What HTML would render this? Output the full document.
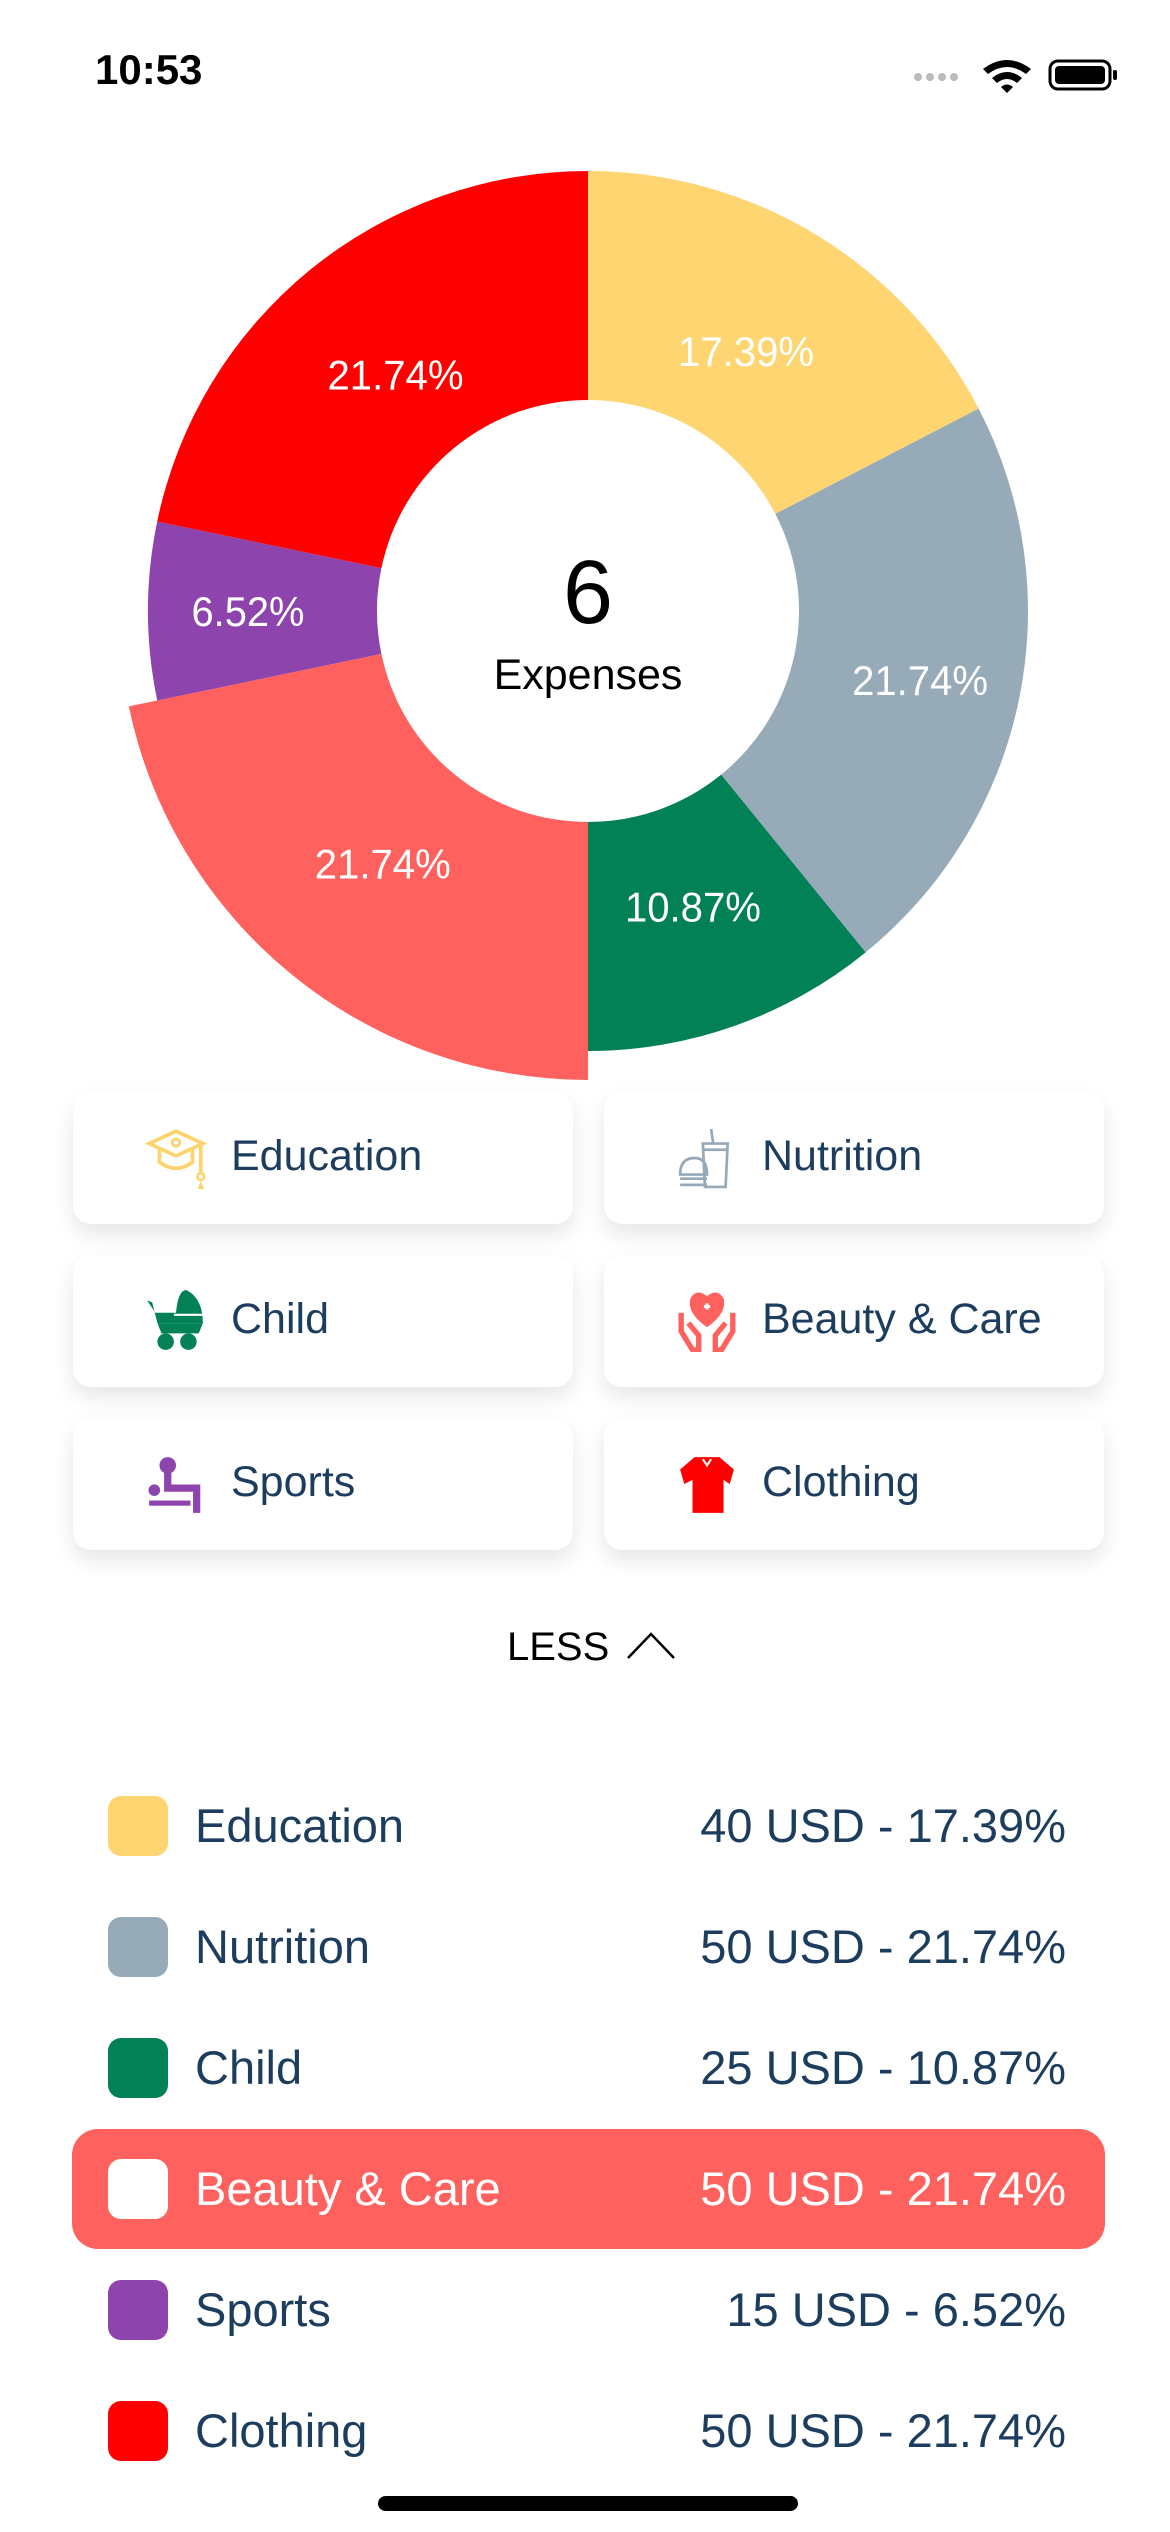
<!DOCTYPE html>
<html><head><meta charset="utf-8">
<style>
html,body{margin:0;padding:0;background:#fff;}
body{width:1170px;height:2532px;position:relative;overflow:hidden;font-family:"Liberation Sans",sans-serif;}
.abs{position:absolute;}
.card{position:absolute;width:500px;height:132px;background:#fff;border-radius:18px;box-shadow:0 10px 22px rgba(0,0,0,0.10);}
.card .lbl{position:absolute;left:158px;top:0;line-height:128px;font-size:43px;color:#1c3d5e;}
.card svg{position:absolute;left:72px;top:35px;}
.row{position:absolute;left:72px;width:1033px;height:120px;}
.row .sw{position:absolute;left:36px;top:30px;width:60px;height:60px;border-radius:13px;}
.row .nm{position:absolute;left:123px;top:0;line-height:120px;font-size:47px;color:#1c3d5e;}
.row .vl{position:absolute;right:39px;top:0;line-height:120px;font-size:47px;color:#1c3d5e;}
</style></head>
<body>
<div class="abs" style="left:95px;top:46px;font-size:42px;font-weight:bold;color:#000;">10:53</div>
<svg class="abs" style="left:910px;top:55px" width="210" height="40">
<circle cx="8" cy="22" r="4" fill="#bbb"/><circle cx="20" cy="22" r="4" fill="#bbb"/><circle cx="32" cy="22" r="4" fill="#bbb"/><circle cx="44" cy="22" r="4" fill="#bbb"/>
<path d="M73 14 Q97 -4 121 14 L116 19 Q97 5 78 19Z M82 23 Q97 11 112 23 L107 28 Q97 20 87 28Z M91 32 Q97 27 103 32 L97 38Z" fill="#000"/>
<rect x="140" y="6" width="60" height="28" rx="8" fill="none" stroke="#000" stroke-width="3"/>
<rect x="145" y="11" width="50" height="18" rx="4" fill="#000"/><rect x="203" y="15" width="4" height="10" rx="2" fill="#000"/>
</svg>

<svg id="pie" class="abs" style="left:0;top:0" width="1170" height="1092"></svg>

<div class="card" style="left:73px;top:1092px">
<svg width="62" height="62" viewBox="0 0 30 30"><path d="M2 8 L15 2 L28 8 L15 14Z M7 11 V17 Q15 23 23 17 V11" fill="none" stroke="#fdd36f" stroke-width="1.8"/><circle cx="15" cy="7.5" r="1.8" fill="none" stroke="#fdd36f" stroke-width="1.4"/><path d="M27 8 V22" stroke="#fdd36f" stroke-width="1.8"/><circle cx="27" cy="24" r="1.6" fill="none" stroke="#fdd36f" stroke-width="1.3"/><path d="M25.5 30 L27 26 L28.5 30Z" fill="#fdd36f"/></svg>
<div class="lbl">Education</div></div>
<div class="card" style="left:604px;top:1092px">
<svg width="62" height="62" viewBox="0 0 30 30"><path d="M13 8 H25 L24 29 H14Z M18 8 L17 1 M13 11 H25" fill="none" stroke="#97a9b8" stroke-width="1.3"/><path d="M2 23 Q2 15 9 15 Q15 15 15 23Z M2 25 H15 M2 28 H15" fill="none" stroke="#97a9b8" stroke-width="1.3"/></svg>
<div class="lbl">Nutrition</div></div>
<div class="card" style="left:73px;top:1255px">
<svg width="62" height="62" viewBox="0 0 30 30"><path d="M1 5 L3.5 6 L6 16 H28 Q28 4 20 0 Q16 0 15 11 H5" fill="#028157"/><path d="M6 16 L8 21 H26 L28 16" fill="#028157"/><path d="M14 12 H28" stroke="#fff" stroke-width="1"/><circle cx="10" cy="25" r="4" fill="#028157"/><circle cx="21" cy="25" r="4" fill="#028157"/></svg>
<div class="lbl">Child</div></div>
<div class="card" style="left:604px;top:1255px">
<svg width="62" height="62" viewBox="0 0 30 30"><path d="M15 18 Q5 11 7 4 Q10 -1 15 3 Q20 -1 23 4 Q25 11 15 18Z" fill="#ff625e"/><path d="M13.5 8 H16.5 M15 6.5 V9.5" stroke="#fff" stroke-width="1.4"/><path d="M2.5 11 V20 L8 29 H11 V22 L6 16 M27.5 11 V20 L22 29 H19 V22 L24 16" fill="none" stroke="#ff625e" stroke-width="2.6"/></svg>
<div class="lbl">Beauty &amp; Care</div></div>
<div class="card" style="left:73px;top:1418px">
<svg width="62" height="62" viewBox="0 0 30 30"><circle cx="11" cy="6" r="4" fill="#8e44ad"/><path d="M11 9 V17 H25 V29" fill="none" stroke="#8e44ad" stroke-width="3.5"/><circle cx="4.5" cy="18" r="2.8" fill="#8e44ad"/><rect x="2" y="23" width="20" height="2.5" fill="#8e44ad"/></svg>
<div class="lbl">Sports</div></div>
<div class="card" style="left:604px;top:1418px">
<svg width="62" height="62" viewBox="0 0 30 30"><path d="M9 2 H21 L28 8 L26 15 L23 13 V29 H8 V13 L4 15 L2 8Z" fill="#ff0000"/><path d="M13 3 L15 6 L17 3" stroke="#fff" fill="none"/></svg>
<div class="lbl">Clothing</div></div>

<div class="abs" style="left:507px;top:1625px;font-size:40px;color:#000;">LESS
<svg width="50" height="32" style="vertical-align:-2px;margin-left:6px"><path d="M2 28 L25 4 L48 28" fill="none" stroke="#000" stroke-width="2.5"/></svg></div>

<div id="list"></div>

<div class="abs" style="left:378px;top:2496px;width:420px;height:15px;border-radius:8px;background:#000"></div>

<script>
const categories = ["Education","Nutrition","Child","Beauty & Care","Sports","Clothing"];
const amounts = [40,50,25,50,15,50];
const colors = ["#fed571","#97aab8","#028157","#ff625e","#8e44ad","#ff0000"];
const selectedIndex = 3;

const total = amounts.reduce((a,b)=>a+b,0);
const cx=588, cy=611, rIn=211, rOut=440, rSel=469;
const NS="http://www.w3.org/2000/svg";
const svg=document.getElementById('pie');
function pt(r,frac){const a=frac*2*Math.PI;return [cx+r*Math.sin(a), cy-r*Math.cos(a)];}
let acc=0;
amounts.forEach((v,i)=>{
  const f0=acc/total, f1=(acc+v)/total; acc+=v;
  const ro = i===selectedIndex?rSel:rOut;
  const [x0,y0]=pt(ro,f0),[x1,y1]=pt(ro,f1),[x2,y2]=pt(rIn,f1),[x3,y3]=pt(rIn,f0);
  const large=(f1-f0)>0.5?1:0;
  const p=document.createElementNS(NS,'path');
  p.setAttribute('d',`M${x0} ${y0} A${ro} ${ro} 0 ${large} 1 ${x1} ${y1} L${x2} ${y2} A${rIn} ${rIn} 0 ${large} 0 ${x3} ${y3}Z`);
  p.setAttribute('fill',colors[i]);
  
  
  svg.appendChild(p);
  const mid=(f0+f1)/2;
  const lr=300+40*Math.abs(Math.sin(mid*2*Math.PI))*(mid>0.2&&mid<0.85?1:0.2);
  const [lx,ly]=pt(lr,mid);
  const t=document.createElementNS(NS,'text');
  t.setAttribute('x',lx);t.setAttribute('y',ly+15);
  t.setAttribute('text-anchor','middle');t.setAttribute('fill','#fff');
  t.setAttribute('font-size','42');t.setAttribute('font-family','Liberation Sans, sans-serif');
  t.setAttribute('textLength','136');t.setAttribute('lengthAdjust','spacingAndGlyphs');
  t.textContent=(v/total*100).toFixed(2)+'%';
  if(t.textContent.length<6)t.setAttribute('textLength','113');
  
  
  svg.appendChild(t);
});
const c1=document.createElementNS(NS,'text');
c1.setAttribute('x',cx);c1.setAttribute('y',623);c1.setAttribute('text-anchor','middle');
c1.setAttribute('font-size','90');c1.setAttribute('font-family','Liberation Sans, sans-serif');
c1.textContent=String(categories.length);


svg.appendChild(c1);
const c2=document.createElementNS(NS,'text');
c2.setAttribute('x',cx);c2.setAttribute('y',689);c2.setAttribute('text-anchor','middle');
c2.setAttribute('font-size','43');c2.setAttribute('font-family','Liberation Sans, sans-serif');
c2.textContent='Expenses';


svg.appendChild(c2);

const list=document.getElementById('list');
categories.forEach((c,i)=>{
  const row=document.createElement('div');
  row.className='row';
  row.style.top=(1766+i*121)+'px';
  
  
  const sel=i===selectedIndex;
  if(sel){row.style.background='#ff625e';row.style.borderRadius='26px';}
  const sw=document.createElement('div');sw.className='sw';sw.style.background=sel?'#fff':colors[i];
  
  
  const nm=document.createElement('div');nm.className='nm';nm.textContent=c;if(sel)nm.style.color='#fff';
  
  
  const vl=document.createElement('div');vl.className='vl';vl.textContent=amounts[i]+' USD - '+(amounts[i]/total*100).toFixed(2)+'%';if(sel)vl.style.color='#fff';
  
  
  row.appendChild(sw);row.appendChild(nm);row.appendChild(vl);
  list.appendChild(row);
});
</script>
</body></html>
